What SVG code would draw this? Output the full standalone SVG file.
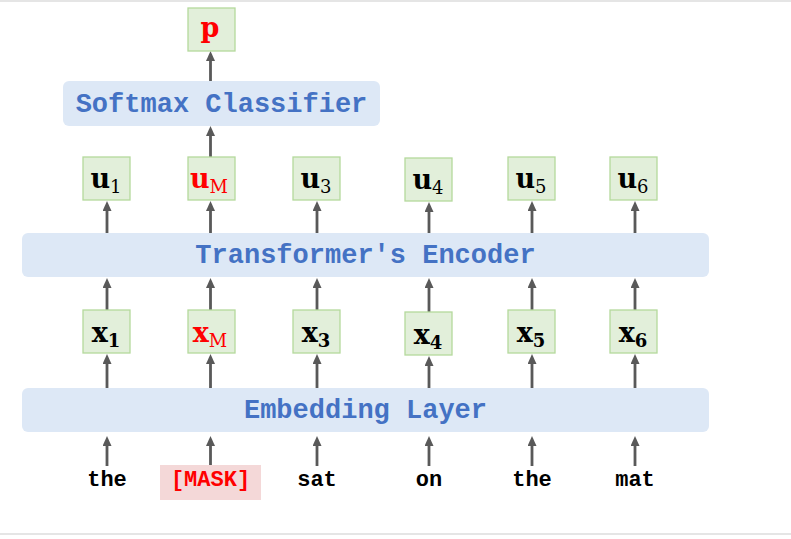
<svg xmlns="http://www.w3.org/2000/svg" width="791" height="539" viewBox="0 0 791 539">
<style>
.layer{fill:#dde8f6;stroke:none}
.vec{fill:#e2efda;stroke:#b4d99c;stroke-width:1.3}
.lt{font-family:"Liberation Mono","Courier New",monospace;font-weight:bold;font-size:27px;fill:#4472c4;text-anchor:middle}
.wd{font-family:"Liberation Mono","Courier New",monospace;font-weight:bold;font-size:22px;fill:#000;text-anchor:middle}
.m{font-family:"DejaVu Serif",serif;font-weight:bold;font-size:27px;fill:#000;text-anchor:middle}
.sub{font-size:18px;font-weight:normal}
.subb{font-size:18px;font-weight:bold}
.red{fill:#ff0000}
.arr{stroke:#595959;stroke-width:2.8;fill:none;marker-end:url(#ah)}
</style>
<defs>
<marker id="ah" markerUnits="userSpaceOnUse" markerWidth="10" markerHeight="10" refX="2" refY="4.5" orient="auto">
<path d="M0,0 L10,4.5 L0,9 z" fill="#595959"/>
</marker>
</defs>
<rect width="791" height="539" fill="#fff"/>
<line x1="0" y1="1" x2="791" y2="1" stroke="#dcdcdc" stroke-width="1.5"/>
<line x1="0" y1="534" x2="791" y2="534" stroke="#dcdcdc" stroke-width="1.5"/>

<g id="connectors">
<line class="arr" x1="210.5" y1="81" x2="210.5" y2="59"/>
<line class="arr" x1="210.5" y1="157" x2="210.5" y2="134"/>
<line class="arr" x1="107" y1="233" x2="107" y2="209"/>
<line class="arr" x1="210.5" y1="233" x2="210.5" y2="209"/>
<line class="arr" x1="317" y1="233" x2="317" y2="209"/>
<line class="arr" x1="429" y1="233" x2="429" y2="210"/>
<line class="arr" x1="532" y1="233" x2="532" y2="209"/>
<line class="arr" x1="635" y1="233" x2="635" y2="209"/>
<line class="arr" x1="107" y1="310" x2="107" y2="286"/>
<line class="arr" x1="210.5" y1="310" x2="210.5" y2="286"/>
<line class="arr" x1="317" y1="310" x2="317" y2="286"/>
<line class="arr" x1="429" y1="312" x2="429" y2="286"/>
<line class="arr" x1="532" y1="310" x2="532" y2="286"/>
<line class="arr" x1="635" y1="310" x2="635" y2="286"/>
<line class="arr" x1="107" y1="388" x2="107" y2="362"/>
<line class="arr" x1="210.5" y1="388" x2="210.5" y2="362"/>
<line class="arr" x1="317" y1="388" x2="317" y2="362"/>
<line class="arr" x1="429" y1="388" x2="429" y2="364"/>
<line class="arr" x1="532" y1="388" x2="532" y2="362"/>
<line class="arr" x1="635" y1="388" x2="635" y2="362"/>
<line class="arr" x1="107" y1="466" x2="107" y2="444"/>
<line class="arr" x1="210.5" y1="466" x2="210.5" y2="444"/>
<line class="arr" x1="317" y1="466" x2="317" y2="444"/>
<line class="arr" x1="429" y1="466" x2="429" y2="444"/>
<line class="arr" x1="532" y1="466" x2="532" y2="444"/>
<line class="arr" x1="635" y1="466" x2="635" y2="444"/>
</g>

<g id="p"><rect class="vec" x="188" y="8" width="47" height="43"/><text class="m red" x="210" y="37">p</text></g>
<g id="softmax"><rect class="layer" x="63" y="81" width="317" height="45" rx="6"/><text class="lt" x="221.5" y="112">Softmax Classifier</text></g>

<g id="u1"><rect class="vec" x="83" y="157" width="47" height="43"/><text class="m" x="106" y="188">u<tspan class="sub" dy="5">1</tspan></text></g>
<g id="uM"><rect class="vec" x="188" y="157" width="47" height="43"/><text class="m red" x="209" y="188">u<tspan class="sub" dy="5">M</tspan></text></g>
<g id="u3"><rect class="vec" x="293" y="157" width="47" height="43"/><text class="m" x="316" y="188">u<tspan class="sub" dy="5">3</tspan></text></g>
<g id="u4"><rect class="vec" x="405" y="158" width="47" height="43"/><text class="m" x="428" y="189">u<tspan class="sub" dy="5">4</tspan></text></g>
<g id="u5"><rect class="vec" x="508" y="157" width="47" height="43"/><text class="m" x="531" y="188">u<tspan class="sub" dy="5">5</tspan></text></g>
<g id="u6"><rect class="vec" x="610" y="157" width="47" height="43"/><text class="m" x="633" y="188">u<tspan class="sub" dy="5">6</tspan></text></g>

<g id="encoder"><rect class="layer" x="22" y="233" width="687" height="44" rx="6"/><text class="lt" x="365.5" y="263">Transformer's Encoder</text></g>

<g id="x1"><rect class="vec" x="83" y="310" width="47" height="43"/><text class="m" x="106" y="342">x<tspan class="subb" dy="5">1</tspan></text></g>
<g id="xM"><rect class="vec" x="188" y="310" width="47" height="43"/><text class="m red" x="210" y="342">x<tspan class="sub" dy="5">M</tspan></text></g>
<g id="x3"><rect class="vec" x="293" y="310" width="47" height="43"/><text class="m" x="316" y="342">x<tspan class="subb" dy="5">3</tspan></text></g>
<g id="x4"><rect class="vec" x="405" y="312" width="47" height="43"/><text class="m" x="428" y="344">x<tspan class="subb" dy="5">4</tspan></text></g>
<g id="x5"><rect class="vec" x="508" y="310" width="47" height="43"/><text class="m" x="531" y="342">x<tspan class="subb" dy="5">5</tspan></text></g>
<g id="x6"><rect class="vec" x="610" y="310" width="47" height="43"/><text class="m" x="633" y="342">x<tspan class="subb" dy="5">6</tspan></text></g>

<g id="embedding"><rect class="layer" x="22" y="388" width="687" height="44" rx="6"/><text class="lt" x="365.5" y="418">Embedding Layer</text></g>

<g id="w1"><text class="wd" x="107" y="486">the</text></g>
<g id="w2"><rect x="160" y="465" width="101" height="35" fill="#f4d8d8"/><text class="wd red" x="210.5" y="486">[MASK]</text></g>
<g id="w3"><text class="wd" x="317" y="486">sat</text></g>
<g id="w4"><text class="wd" x="429" y="486">on</text></g>
<g id="w5"><text class="wd" x="532" y="486">the</text></g>
<g id="w6"><text class="wd" x="635" y="486">mat</text></g>
</svg>
